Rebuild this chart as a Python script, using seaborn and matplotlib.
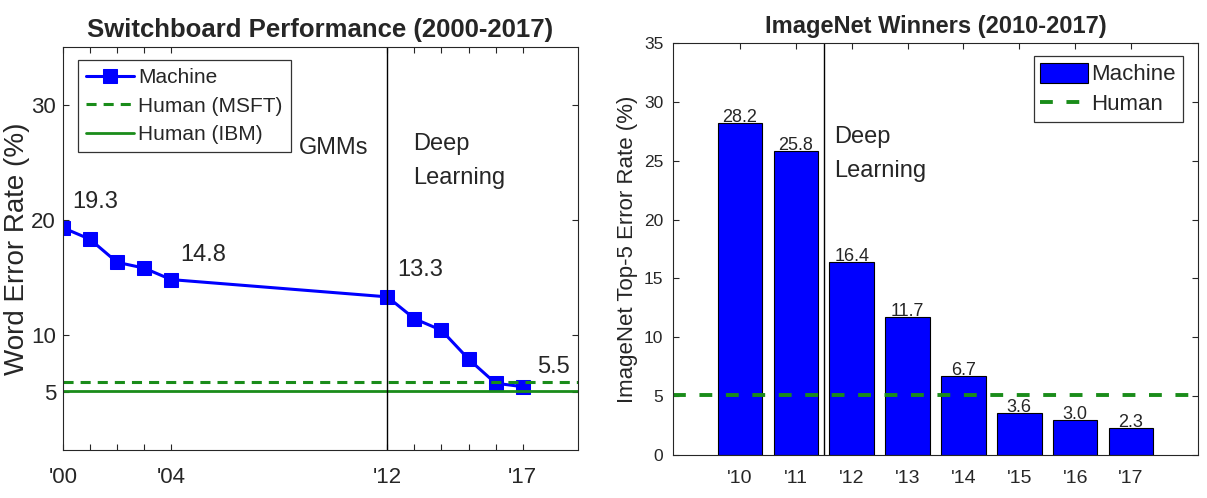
import numpy as np
import pandas as pd
import matplotlib
matplotlib.use("Agg")
import matplotlib.pyplot as plt
import seaborn as sns

sns.set_style("white")
plt.rcParams['font.family'] = ['Liberation Sans', 'DejaVu Sans']

# Switchboard data
sb_years = [2000, 2001, 2002, 2003, 2004, 2012, 2013, 2014, 2015, 2016, 2017]
sb_wer = [19.3, 18.3, 16.3, 15.8, 14.8, 13.3, 11.4, 10.4, 7.9, 5.8, 5.5]
sb_labeled = {2000: "19.3", 2004: "14.8", 2012: "13.3", 2017: "5.5"}
human_msft = 5.9
human_ibm = 5.1

# ImageNet data
in_years = ["'10", "'11", "'12", "'13", "'14", "'15", "'16", "'17"]
in_err = [28.2, 25.8, 16.4, 11.7, 6.7, 3.6, 3.0, 2.3]
in_human = 5.1

BLUE = '#0000ff'
GREEN = '#1a8c1a'
TXT = '#262626'

fig = plt.figure(figsize=(12.07, 4.98), dpi=100)
ax1 = fig.add_axes([63 / 1207, 1 - 450 / 498, 515 / 1207, 403 / 498])
ax2 = fig.add_axes([673 / 1207, 1 - 455 / 498, 525 / 1207, 412 / 498])

# ---- left panel: Switchboard
sb = pd.DataFrame({'year': sb_years, 'wer': sb_wer})
sns.lineplot(data=sb, x='year', y='wer', ax=ax1, color=BLUE, lw=2.2,
             marker='s', markersize=10, markeredgecolor=BLUE, label='Machine')
ax1.axhline(human_msft, color=GREEN, ls=(0, (3.3, 2.3)), lw=2.2, label='Human (MSFT)')
ax1.axhline(human_ibm, color=GREEN, ls='-', lw=2.0, label='Human (IBM)')
ax1.axvline(2012, color='black', lw=1)
ax1.set_xlim(2000, 2019.05)
ax1.set_ylim(0, 35)
ax1.set_xticks([2000, 2004, 2012, 2017])
ax1.set_xticklabels(["'00", "'04", "'12", "'17"])
ax1.set_xticks([2001, 2002, 2003, 2013, 2014, 2015, 2016], minor=True)
ax1.set_yticks([5, 10, 20, 30])
ax1.tick_params(axis='both', which='both', direction='in', top=True, right=True,
                bottom=True, left=True, labelsize=16, labelcolor=TXT, color=TXT,
                length=4.5, width=0.8)
ax1.tick_params(axis='x', pad=12)
ax1.tick_params(axis='y', pad=5)
ax1.set_xlabel('')
ax1.set_ylabel('Word Error Rate (%)', fontsize=20, color=TXT, labelpad=1)
ax1.set_title('Switchboard Performance (2000-2017)', fontsize=18.5, fontweight='bold', pad=7)
offsets = {2000: (0.33, 2.2), 2004: (0.33, 2.1), 2012: (0.37, 2.3), 2017: (0.55, 1.7)}
for yr, v in zip(sb_years, sb_wer):
    if yr in sb_labeled:
        dx, dy = offsets[yr]
        ax1.text(yr + dx, v + dy, sb_labeled[yr], fontsize=17, color=TXT,
                 va='center', ha='left')
ax1.text(2008.74, 26.2, 'GMMs', fontsize=17, color=TXT, va='center')
ax1.text(2012.96, 26.6, 'Deep', fontsize=17, color=TXT, va='center')
ax1.text(2012.96, 23.6, 'Learning', fontsize=17, color=TXT, va='center')
leg1 = ax1.legend(loc='upper left', bbox_to_anchor=(0.029, 0.968), fontsize=15, frameon=True,
                  fancybox=False, edgecolor='black', handlelength=2.3, handletextpad=0.2,
                  borderpad=0.4, labelspacing=0.45, borderaxespad=0)
leg1.get_frame().set_linewidth(0.9)
for s in ax1.spines.values():
    s.set_color(TXT)
    s.set_linewidth(0.8)

# ---- right panel: ImageNet
im = pd.DataFrame({'year': in_years, 'err': in_err})
sns.barplot(data=im, x='year', y='err', ax=ax2, color=BLUE, saturation=1,
            edgecolor='black', linewidth=0.8, width=0.8, label='Machine')
ax2.axhline(in_human, color=GREEN, ls=(0, (3.3, 3.5)), lw=2.8, label='Human')
ax2.axvline(1.5, color='black', lw=1)
for i, v in enumerate(in_err):
    ax2.text(i, v - 0.25, f"{v:.1f}", ha='center', va='bottom', fontsize=13, color=TXT)
ax2.text(1.69, 27.0, 'Deep', fontsize=17, color=TXT, va='center')
ax2.text(1.69, 24.1, 'Learning', fontsize=17, color=TXT, va='center')
ax2.set_xlim(-1.2, 8.2)
ax2.set_ylim(0, 35)
ax2.set_yticks(np.arange(0, 36, 5))
ax2.tick_params(axis='both', which='both', direction='in', top=True, right=True,
                bottom=True, left=True, labelcolor=TXT, color=TXT, length=4.5, width=0.8)
ax2.tick_params(axis='x', pad=11, labelsize=14)
ax2.tick_params(axis='y', pad=7, labelsize=12.5)
ax2.set_xlabel('')
ax2.set_ylabel('ImageNet Top-5 Error Rate (%)', fontsize=16, color=TXT, labelpad=4)
ax2.set_title('ImageNet Winners (2010-2017)', fontsize=17, fontweight='bold', pad=7)
handles, labels = ax2.get_legend_handles_labels()
order = [labels.index('Machine'), labels.index('Human')]
leg2 = ax2.legend([handles[k] for k in order], [labels[k] for k in order],
                  loc='upper right', bbox_to_anchor=(0.971, 0.968), fontsize=16, frameon=True,
                  fancybox=False, edgecolor='black', handlelength=2.15, handleheight=1.0,
                  handletextpad=0.15, borderpad=0.3, labelspacing=0.33, borderaxespad=0)
leg2.get_frame().set_linewidth(0.9)
for s in ax2.spines.values():
    s.set_color(TXT)
    s.set_linewidth(0.8)

fig.savefig('out.png', dpi=100)
